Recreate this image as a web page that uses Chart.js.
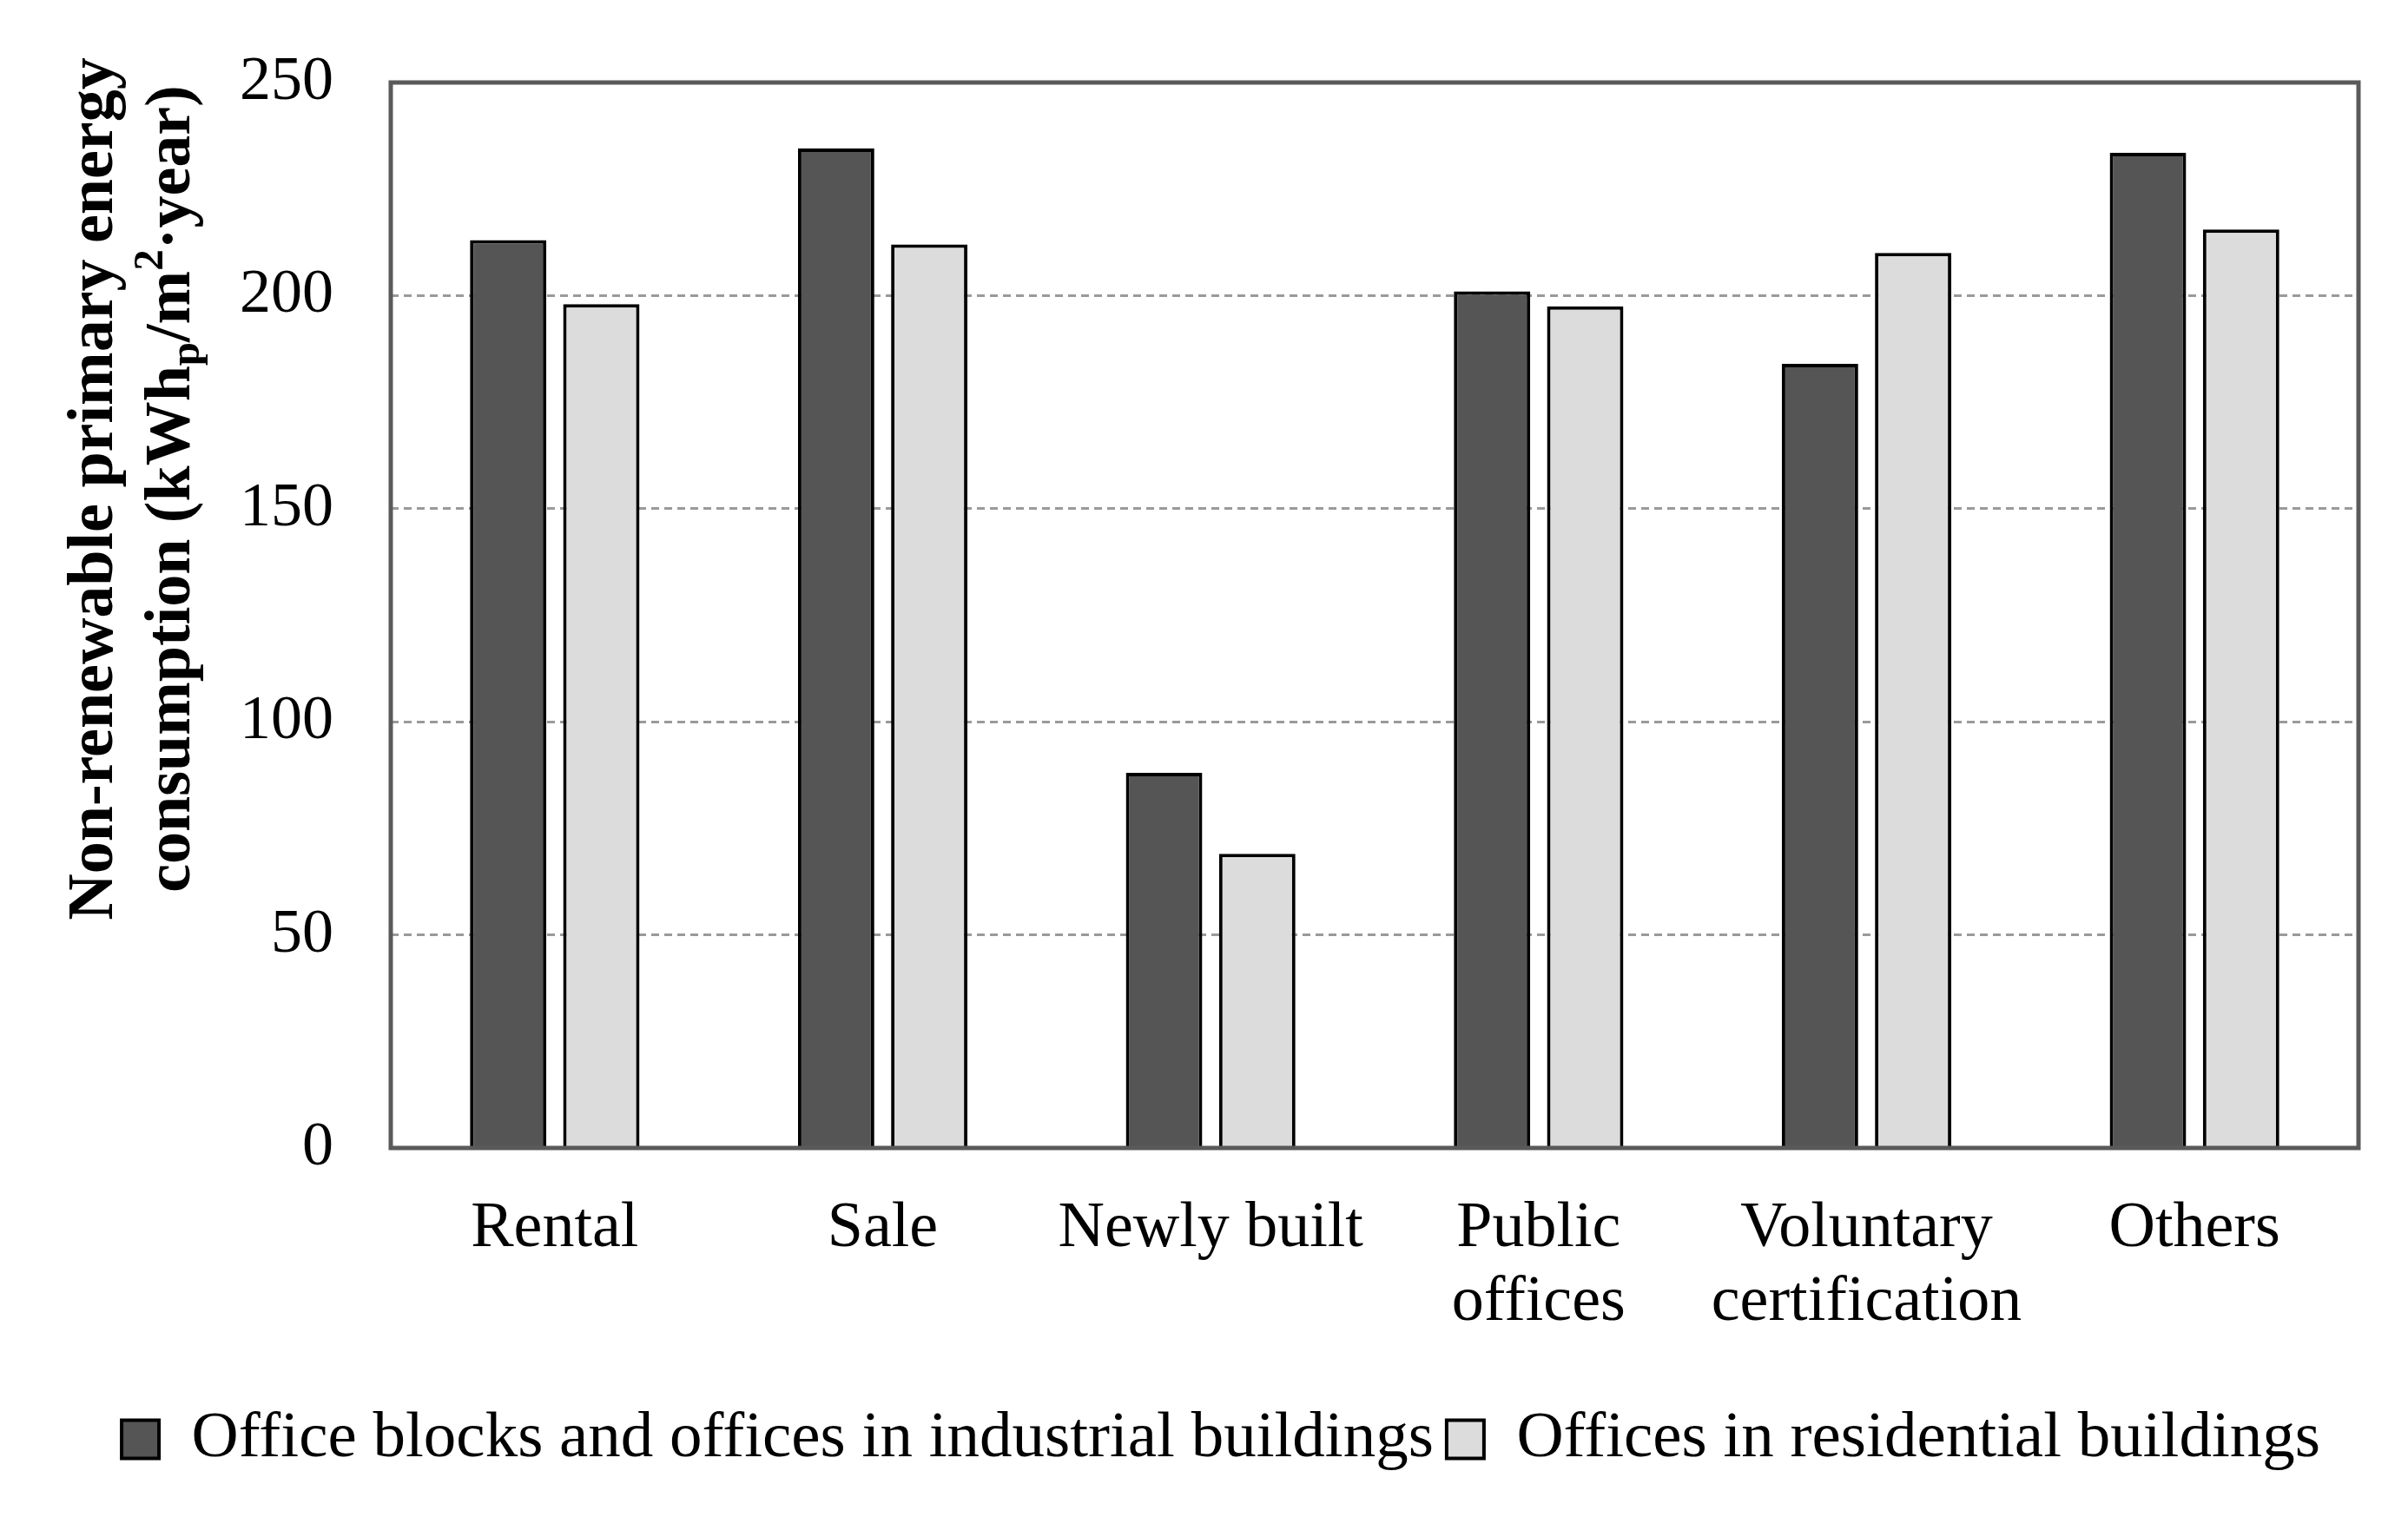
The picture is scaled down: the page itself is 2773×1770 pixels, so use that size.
<!DOCTYPE html>
<html>
<head>
<meta charset="utf-8">
<script src="https://cdn.jsdelivr.net/npm/chart.js@4/dist/chart.umd.min.js"></script>
<style>
  html, body { margin: 0; padding: 0; background: #fff; }
  #wrap { width: 2773px; height: 1770px; }
</style>
</head>
<body>
<div id="wrap"><canvas id="grafik"></canvas></div>
<script>
// ======= Data =======
const kategori = ['Rental', 'Sale', 'Newly built', ['Public', 'offices'], ['Voluntary', 'certification'], 'Others'];
const namaSeri = ['Office blocks and offices in industrial buildings', 'Offices in residential buildings'];
const nilaiIndustri = [213, 234.5, 88, 201, 184, 233.5];
const nilaiResidensial = [198, 212, 69, 197.5, 210, 215.5];
const tickY = [0, 50, 100, 150, 200, 250];

const FONT = '"Liberation Serif", "Times New Roman", serif';
const GESER_LEGENDA = 48;

// ======= Plugin: frame + judul sumbu Y (dengan subscript/superscript) =======
const bingkaiDanJudul = {
    id: 'bingkaiDanJudul',
    afterLayout(chart) {
        // geser legenda sedikit ke kanan seperti di gambar asli
        chart.legend.left += GESER_LEGENDA;
        chart.legend.right += GESER_LEGENDA;
    },
    afterDatasetsDraw(chart) {
        const { ctx, chartArea: a } = chart;
        ctx.save();
        ctx.strokeStyle = '#5a5a5a';
        ctx.lineWidth = 5;
        ctx.strokeRect(a.left, a.top, a.right - a.left, a.bottom - a.top);
        ctx.restore();
    },
    afterDraw(chart) {
        const { ctx } = chart;
        const ukuran = 74;
        const kecil = 49;
        const cy = 563;

        ctx.save();
        ctx.fillStyle = '#000';
        ctx.textBaseline = 'middle';

        // baris 1
        ctx.save();
        ctx.translate(110, cy);
        ctx.rotate(-Math.PI / 2);
        ctx.font = `bold ${ukuran}px ${FONT}`;
        ctx.textAlign = 'center';
        ctx.fillText('Non-renewable primary energy', 0, 0);
        ctx.restore();

        // baris 2 dengan potongan
        const potongan = [
            { t: 'consumption (kWh', s: ukuran, dy: 0 },
            { t: 'p', s: kecil, dy: 17 },
            { t: '/m', s: ukuran, dy: 0 },
            { t: '2', s: kecil, dy: -25 },
            { t: '\u00B7year)', s: ukuran, dy: 0 }
        ];
        ctx.save();
        ctx.translate(199, cy);
        ctx.rotate(-Math.PI / 2);
        ctx.textAlign = 'left';
        let total = 0;
        potongan.forEach(p => {
            ctx.font = `bold ${p.s}px ${FONT}`;
            p.w = ctx.measureText(p.t).width;
            total += p.w;
        });
        let x = -total / 2;
        potongan.forEach(p => {
            ctx.font = `bold ${p.s}px ${FONT}`;
            ctx.fillText(p.t, x, p.dy);
            x += p.w;
        });
        ctx.restore();
        ctx.restore();
    }
};

const ctx = document.getElementById('grafik').getContext('2d');
new Chart(ctx, {
    type: 'bar',
    data: {
        labels: kategori,
        datasets: [
            {
                label: namaSeri[0],
                data: nilaiIndustri,
                backgroundColor: '#555555',
                borderColor: '#000000',
                borderWidth: 4
            },
            {
                label: namaSeri[1],
                data: nilaiResidensial,
                backgroundColor: '#dcdcdc',
                borderColor: '#000000',
                borderWidth: 4
            }
        ]
    },
    options: {
        responsive: true,
        maintainAspectRatio: false,
        animation: false,
        devicePixelRatio: 1,
        categoryPercentage: 0.568,
        barPercentage: 0.82,
        layout: { padding: { top: 95, right: 57, left: 0, bottom: 65 } },
        plugins: {
            tooltip: { enabled: false },
            legend: {
                position: 'bottom',
                labels: {
                    color: '#000',
                    font: { family: FONT, size: 75 },
                    boxWidth: 43,
                    boxHeight: 44,
                    padding: 15
                }
            }
        },
        scales: {
            x: {
                grid: { display: false, drawTicks: false },
                border: { display: false },
                ticks: {
                    color: '#000',
                    font: { family: FONT, size: 74, lineHeight: 1.15 },
                    padding: 51,
                    maxRotation: 0,
                    autoSkip: false
                },
                afterFit: s => { s.height = 283; s.paddingTop = 0; s.paddingBottom = 0; }
            },
            y: {
                min: 0,
                max: 250,
                afterBuildTicks: s => { s.ticks = tickY.map(v => ({ value: v })); },
                grid: {
                    drawTicks: false,
                    lineWidth: 3,
                    color: c => (c.tick && (c.tick.value === 0 || c.tick.value === 250)) ? 'rgba(0,0,0,0)' : '#9a9a9a'
                },
                border: { display: false, dash: [9, 6] },
                ticks: {
                    color: '#000',
                    font: { family: FONT, size: 72 },
                    padding: 66
                },
                afterFit: s => { s.width = 450; s.paddingTop = 0; s.paddingBottom = 0; }
            }
        }
    },
    plugins: [bingkaiDanJudul]
});
</script>
</body>
</html>
